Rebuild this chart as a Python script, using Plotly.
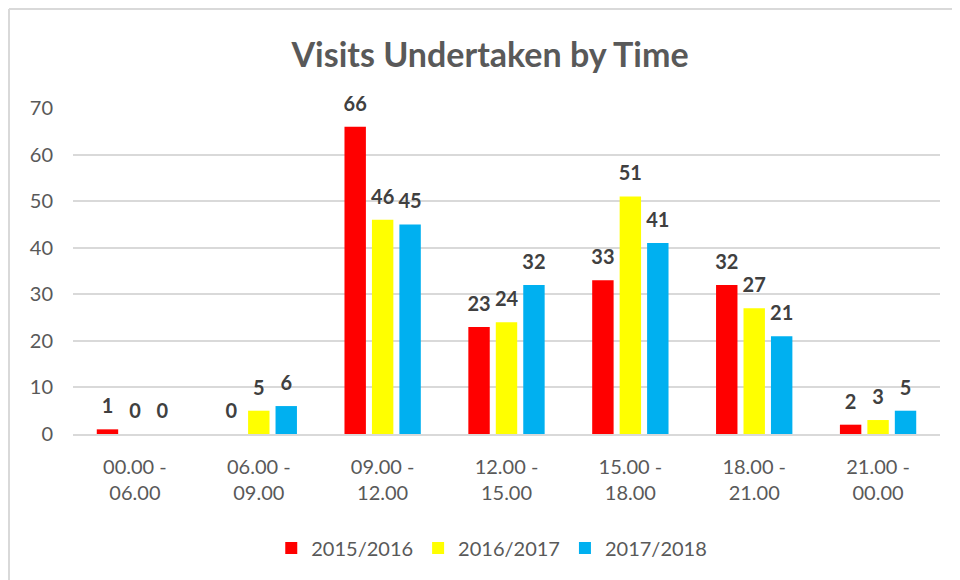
import plotly.graph_objects as go

categories = ["00.00 -<br>06.00", "06.00 -<br>09.00", "09.00 -<br>12.00", "12.00 -<br>15.00",
              "15.00 -<br>18.00", "18.00 -<br>21.00", "21.00 -<br>00.00"]
series_names = ["2015/2016", "2016/2017", "2017/2018"]
v2015 = [1, 0, 66, 23, 33, 32, 2]
v2016 = [0, 5, 46, 24, 51, 27, 3]
v2017 = [0, 6, 45, 32, 41, 21, 5]
colors = ["#FF0000", "#FFFF00", "#00B0F0"]
y_ticks = [0, 10, 20, 30, 40, 50, 60, 70]

FONT = "Lato"
GAP = 0.335
fig = go.Figure()
for i, (name, vals, col) in enumerate(zip(series_names, [v2015, v2016, v2017], colors)):
    fig.add_trace(go.Bar(
        x=categories, y=vals, name=name, marker_color=col, marker_line_width=0,
        offsetgroup=str(i), alignmentgroup="a",
    ))
for i, vals in enumerate([v2015, v2016, v2017]):
    fig.add_trace(go.Scatter(
        x=categories, y=vals, mode="markers+text", showlegend=False,
        offsetgroup=str(i), alignmentgroup="a",
        marker=dict(size=16, color="rgba(0,0,0,0)"),
        text=[str(v) for v in vals], textposition="top center", cliponaxis=False,
        textfont=dict(family=FONT, size=20, color="#404040", weight="bold"),
        hoverinfo="skip",
    ))

W, H = 960, 580
L, R, T, B = 65, 28, 100, 154
pw, ph = W - L - R, H - T - B
def px_x(px):
    return (px - L) / pw
def px_y(py):
    return (H - B - py) / ph

fig.update_layout(
    width=W, height=H,
    margin=dict(l=L, r=R, t=T, b=B, autoexpand=False),
    paper_bgcolor="white", plot_bgcolor="white",
    barmode="group", bargap=GAP, bargroupgap=0.22,
    scattermode="group", scattergap=GAP,
    title=dict(text="Visits Undertaken by Time", x=482 / W, xanchor="center",
               y=1 - 47 / H, yanchor="middle",
               font=dict(family=FONT, size=34, color="#595959", weight="bold")),
    legend=dict(orientation="h", x=0.483, xanchor="center",
                y=px_y(540), yanchor="middle",
                font=dict(family=FONT, size=20, color="#595959"),
                itemwidth=30, traceorder="normal"),
    showlegend=True,
    shapes=[
        dict(type="line", xref="paper", yref="paper", x0=px_x(1), x1=px_x(975),
             y0=px_y(1), y1=px_y(1), line=dict(color="#D9D9D9", width=2)),
        dict(type="line", xref="paper", yref="paper", x0=px_x(1), x1=px_x(1),
             y0=px_y(1), y1=px_y(600), line=dict(color="#D9D9D9", width=2)),
    ],
)
fig.update_yaxes(range=[0, 70], tickvals=y_ticks, showgrid=True, gridcolor="#D9D9D9",
                 gridwidth=1.5, zeroline=False, showline=False, ticks="",
                 ticklabelstandoff=19,
                 tickfont=dict(family=FONT, size=20, color="#595959"))
fig.update_xaxes(showgrid=False, showline=True, linecolor="#D9D9D9", linewidth=1.5,
                 ticks="", ticklabelstandoff=14, tickangle=0,
                 tickfont=dict(family=FONT, size=20, color="#595959"))

fig.write_html("out.html")
